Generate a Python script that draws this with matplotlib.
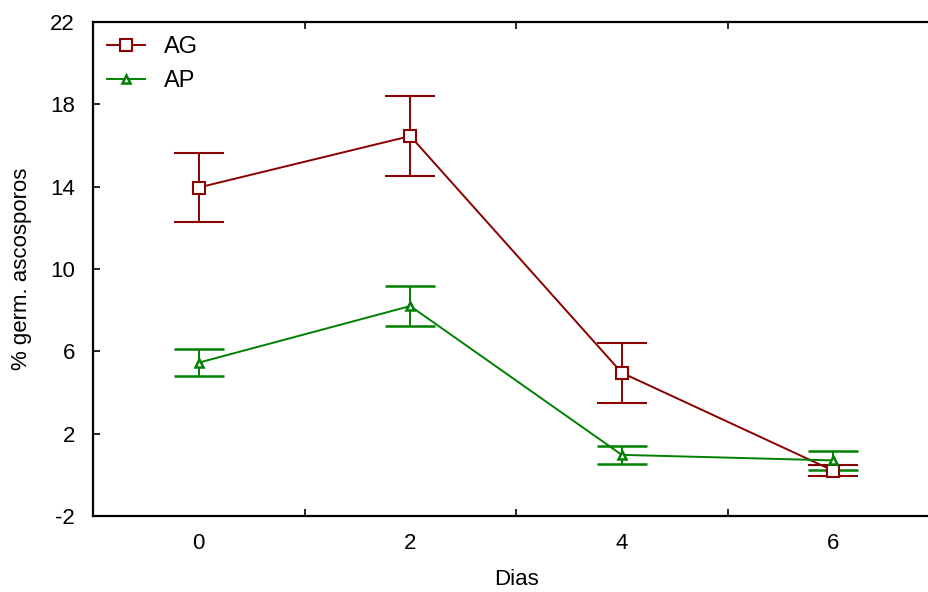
import matplotlib.pyplot as plt
from matplotlib.lines import Line2D

plt.rcParams['font.family'] = ['Liberation Sans', 'DejaVu Sans']
plt.rcParams['axes.unicode_minus'] = False

dias = ['0', '2', '4', '6']
ag_media = [13.96, 16.46, 4.96, 0.2]
ag_erro = [1.69, 1.94, 1.46, 0.28]
ap_media = [5.45, 8.2, 0.97, 0.7]
ap_erro = [0.65, 0.95, 0.42, 0.48]

cor_ag = '#8b0000'
cor_ap = '#008000'

fig = plt.figure(figsize=(9.29, 5.92), dpi=100)
ax = fig.add_axes([0.1001, 0.1284, 0.9107, 0.8344])

pos = list(range(len(dias)))
ax.errorbar(pos, ag_media, yerr=ag_erro, color=cor_ag, lw=1.4,
            marker='s', ms=8, mfc='white', mec=cor_ag, mew=1.5,
            capsize=18, capthick=1.6, elinewidth=1.4)
ax.errorbar(pos, ap_media, yerr=ap_erro, color=cor_ap, lw=1.4,
            marker='^', ms=6, mfc='white', mec=cor_ap, mew=1.8,
            capsize=18, capthick=1.6, elinewidth=1.4)

ax.set_xlim(-0.5, 3.5)
ax.set_ylim(-2, 22)
ax.set_yticks(range(-2, 23, 4))
ax.set_xticks(pos)
ax.set_xticklabels(dias)
ax.set_xticks([0.5, 1.5, 2.5], minor=True)
ax.tick_params(axis='x', which='major', length=0, labelsize=16, pad=12)
ax.tick_params(axis='x', which='minor', direction='in', length=5, width=1.2, top=True)
ax.tick_params(axis='y', direction='in', length=5, width=1.2, labelsize=16, pad=13, right=True)
for s in ax.spines.values():
    s.set_linewidth(1.6)

ax.set_xlabel('Dias', fontsize=16, labelpad=11)
ax.set_ylabel('% germ. ascosporos', fontsize=16, labelpad=13)

# legenda só com linha e marcador
alcas = [Line2D([], [], color=cor_ag, lw=1.4, marker='s', ms=8, mfc='white', mec=cor_ag, mew=1.5),
         Line2D([], [], color=cor_ap, lw=1.4, marker='^', ms=6, mfc='white', mec=cor_ap, mew=1.8)]
ax.legend(alcas, ['AG', 'AP'], loc='upper left', frameon=False, fontsize=17, handlelength=1.6,
          handletextpad=0.8, labelspacing=0.5, borderaxespad=0.3, borderpad=0.3)

fig.savefig('out.png', dpi=100)
